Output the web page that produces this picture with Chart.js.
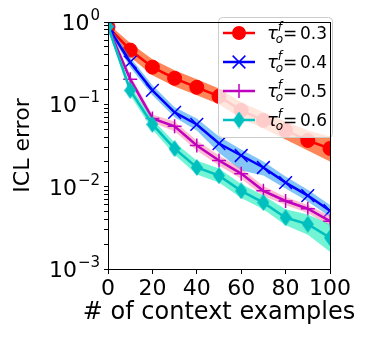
<!DOCTYPE html>
<html>
<head>
<meta charset="utf-8">
<script src="https://cdn.jsdelivr.net/npm/chart.js@4.4.0/dist/chart.umd.min.js"></script>
<style>
  html, body { margin: 0; padding: 0; background: #fff; }
</style>
</head>
<body>
<canvas id="iclChart" width="366" height="338"></canvas>
<script>
// number of context examples
const contextSizes = [0, 10, 20, 30, 40, 50, 60, 70, 80, 90, 100];

// tau = 0.3
const err03   = [0.87, 0.456, 0.283, 0.207, 0.161, 0.125, 0.0845, 0.0638, 0.0482, 0.0364, 0.0291];
const err03Lo = [0.80, 0.375, 0.226, 0.165, 0.129, 0.100, 0.0675, 0.051, 0.0374, 0.0275, 0.0202];
const err03Hi = [0.95, 0.555, 0.354, 0.259, 0.202, 0.156, 0.106, 0.080, 0.062, 0.048, 0.0408];
// tau = 0.4
const err04   = [0.87, 0.325, 0.148, 0.080, 0.057, 0.0334, 0.0239, 0.0171, 0.0112, 0.0078, 0.0051];
const err04Lo = [0.80, 0.282, 0.129, 0.0695, 0.048, 0.0259, 0.0157, 0.0137, 0.0095, 0.0066, 0.0043];
const err04Hi = [0.95, 0.374, 0.170, 0.092, 0.0675, 0.0407, 0.0283, 0.0202, 0.0133, 0.0092, 0.0060];
// tau = 0.5
const err05   = [0.87, 0.202, 0.0675, 0.054, 0.0316, 0.0208, 0.0144, 0.0089, 0.0067, 0.0054, 0.0038];
const err05Lo = [0.80, 0.180, 0.0603, 0.047, 0.0275, 0.0181, 0.0125, 0.0077, 0.0060, 0.0048, 0.0033];
const err05Hi = [0.95, 0.226, 0.0755, 0.062, 0.0364, 0.0239, 0.0166, 0.0102, 0.0075, 0.0060, 0.0044];
// tau = 0.6
const err06   = [0.88, 0.148, 0.057, 0.029, 0.0171, 0.0136, 0.0089, 0.0064, 0.0042, 0.0035, 0.0024];
const err06Lo = [0.80, 0.129, 0.0495, 0.0245, 0.0141, 0.0112, 0.0073, 0.0053, 0.0034, 0.0026, 0.00162];
const err06Hi = [0.95, 0.170, 0.066, 0.0343, 0.0208, 0.0166, 0.0108, 0.0078, 0.0053, 0.0046, 0.0035];

const tauLabels = ["0.3", "0.4", "0.5", "0.6"];
const yTickPowers = [0, -1, -2, -3];
const xTitle = "# of context examples";
const yTitle = "ICL error";

const FONT = '"DejaVu Sans", sans-serif';

// thin diamond marker (matplotlib "d")
function thinDiamond(w, h, color) {
  const c = document.createElement("canvas");
  c.width = w; c.height = h;
  const g = c.getContext("2d");
  g.fillStyle = color;
  g.beginPath();
  g.moveTo(w / 2, 0); g.lineTo(w, h / 2); g.lineTo(w / 2, h); g.lineTo(0, h / 2);
  g.closePath(); g.fill();
  return c;
}
const diamondImg = thinDiamond(12, 17, "#00bfbf");

const seriesDefs = [
  { mean: err03, lo: err03Lo, hi: err03Hi, color: "#ff0000", band: "rgba(255,69,0,0.65)",
    style: "circle", radius: 7, bw: 1 },
  { mean: err04, lo: err04Lo, hi: err04Hi, color: "#0000ff", band: "rgba(30,150,240,0.55)",
    style: "crossRot", radius: 9, bw: 1.5 },
  { mean: err05, lo: err05Lo, hi: err05Hi, color: "#bf00bf", band: "rgba(255,120,160,0.5)",
    style: "cross", radius: 7, bw: 1.5 },
  { mean: err06, lo: err06Lo, hi: err06Hi, color: "#00bfbf", band: "rgba(40,240,190,0.65)",
    style: diamondImg, radius: 8, bw: 1 },
];

const datasets = [];
seriesDefs.forEach((s, i) => {
  const base = 100 - i * 10;
  datasets.push({
    data: s.lo, borderWidth: 0, pointRadius: 0, fill: false, order: base + 2, clip: 0
  });
  datasets.push({
    data: s.hi, borderWidth: 0, pointRadius: 0, fill: "-1", backgroundColor: s.band,
    order: base + 1, clip: 0
  });
  datasets.push({
    data: s.mean, borderColor: s.color, backgroundColor: s.color, borderWidth: 2.5,
    pointStyle: s.style, pointRadius: s.radius, pointBorderWidth: s.bw,
    pointBorderColor: s.color, pointBackgroundColor: s.color,
    fill: false, tension: 0, order: base, clip: 0
  });
});

// frame, axis titles and 10^n labels
const framePlugin = {
  id: "frame",
  afterDraw(chart) {
    const { ctx, chartArea: a } = chart;
    ctx.save();
    ctx.strokeStyle = "#000";
    ctx.lineWidth = 1;
    ctx.strokeRect(a.left + 0.5, a.top + 0.5, a.right - a.left, a.bottom - a.top);

    ctx.fillStyle = "#000";
    const ys = chart.scales.y;
    yTickPowers.forEach(p => {
      const y = ys.getPixelForValue(Math.pow(10, p));
      const exp = p < 0 ? "\u2212" + (-p) : String(p);
      ctx.textBaseline = "alphabetic";
      ctx.textAlign = "right";
      ctx.font = "15px " + FONT;
      const right = a.left - 8;
      ctx.fillText(exp, right, y - 2);
      const we = ctx.measureText(exp).width;
      ctx.font = "22px " + FONT;
      ctx.fillText("10", right - we - 1, y + 8);
    });

    ctx.font = "24px " + FONT;
    ctx.textAlign = "center";
    ctx.textBaseline = "middle";
    ctx.fillText(xTitle, (a.left + a.right) / 2, 313);

    ctx.save();
    ctx.translate(23, (a.top + a.bottom) / 2);
    ctx.rotate(-Math.PI / 2);
    ctx.font = "22px " + FONT;
    ctx.fillText(yTitle, 0, 0);
    ctx.restore();
    ctx.restore();
  }
};

const legendPlugin = {
  id: "tauLegend",
  afterDatasetsDraw(chart) {
    const { ctx, chartArea: a } = chart;
    const bx = a.right - 112, by = a.top - 5, bw = 114, bh = 120;
    ctx.save();
    ctx.beginPath();
    ctx.roundRect(bx + 0.5, by + 0.5, bw, bh, 4);
    ctx.fillStyle = "rgba(255,255,255,0.8)";
    ctx.fill();
    ctx.strokeStyle = "#cccccc";
    ctx.lineWidth = 1;
    ctx.stroke();

    seriesDefs.forEach((s, i) => {
      const cy = by + 16 + i * 29;
      const lx0 = bx + 5, lx1 = bx + 37, mx = bx + 21;
      ctx.strokeStyle = s.color;
      ctx.lineWidth = 2.5;
      ctx.beginPath(); ctx.moveTo(lx0, cy); ctx.lineTo(lx1, cy); ctx.stroke();
      ctx.fillStyle = s.color;
      ctx.lineWidth = s.bw;
      if (s.style === "circle") {
        ctx.beginPath(); ctx.arc(mx, cy, s.radius, 0, Math.PI * 2); ctx.fill();
      } else if (s.style === "crossRot") {
        const d = s.radius * 0.707;
        ctx.beginPath();
        ctx.moveTo(mx - d, cy - d); ctx.lineTo(mx + d, cy + d);
        ctx.moveTo(mx - d, cy + d); ctx.lineTo(mx + d, cy - d);
        ctx.stroke();
      } else if (s.style === "cross") {
        ctx.beginPath();
        ctx.moveTo(mx - s.radius, cy); ctx.lineTo(mx + s.radius, cy);
        ctx.moveTo(mx, cy - s.radius); ctx.lineTo(mx, cy + s.radius);
        ctx.stroke();
      } else {
        ctx.drawImage(s.style, mx - s.style.width / 2, cy - s.style.height / 2);
      }

      // tau_o^f = value
      const tx = bx + 49, base = cy + 6;
      ctx.fillStyle = "#000";
      ctx.textBaseline = "alphabetic";
      ctx.textAlign = "left";
      ctx.font = "italic 18px " + FONT;
      ctx.fillText("\u03c4", tx, base);
      const wt = ctx.measureText("\u03c4").width;
      ctx.font = "italic 12px " + FONT;
      ctx.fillText("o", tx + wt - 2, base + 4);
      ctx.fillText("f", tx + wt, base - 8);
      ctx.font = "17px " + FONT;
      ctx.fillText("=", tx + 16, base);
      ctx.fillText(tauLabels[i], tx + 33, base);
    });
    ctx.restore();
  }
};

new Chart(document.getElementById("iclChart").getContext("2d"), {
  type: "line",
  data: { labels: contextSizes, datasets: datasets },
  plugins: [framePlugin, legendPlugin],
  options: {
    responsive: false,
    animation: false,
    layout: { padding: { left: 0, right: 36, top: 22, bottom: 0 } },
    plugins: { legend: { display: false }, tooltip: { enabled: false } },
    scales: {
      x: {
        type: "linear",
        min: 0, max: 100,
        afterFit: (s) => { s.height = 69; },
        ticks: { stepSize: 20, autoSkip: false, color: "#000", font: { family: FONT, size: 22 },
                 padding: 2, maxRotation: 0 },
        grid: { drawOnChartArea: false, drawTicks: true, tickLength: 5, color: "#000" },
        border: { color: "#000", width: 1 }
      },
      y: {
        type: "logarithmic",
        min: 0.001, max: 1,
        afterFit: (s) => { s.width = 108; },
        ticks: { autoSkip: false, callback: () => "" },
        grid: { drawOnChartArea: false, drawTicks: true, tickLength: 4, color: "#000" },
        border: { color: "#000", width: 1 }
      }
    }
  }
});
</script>
</body>
</html>
